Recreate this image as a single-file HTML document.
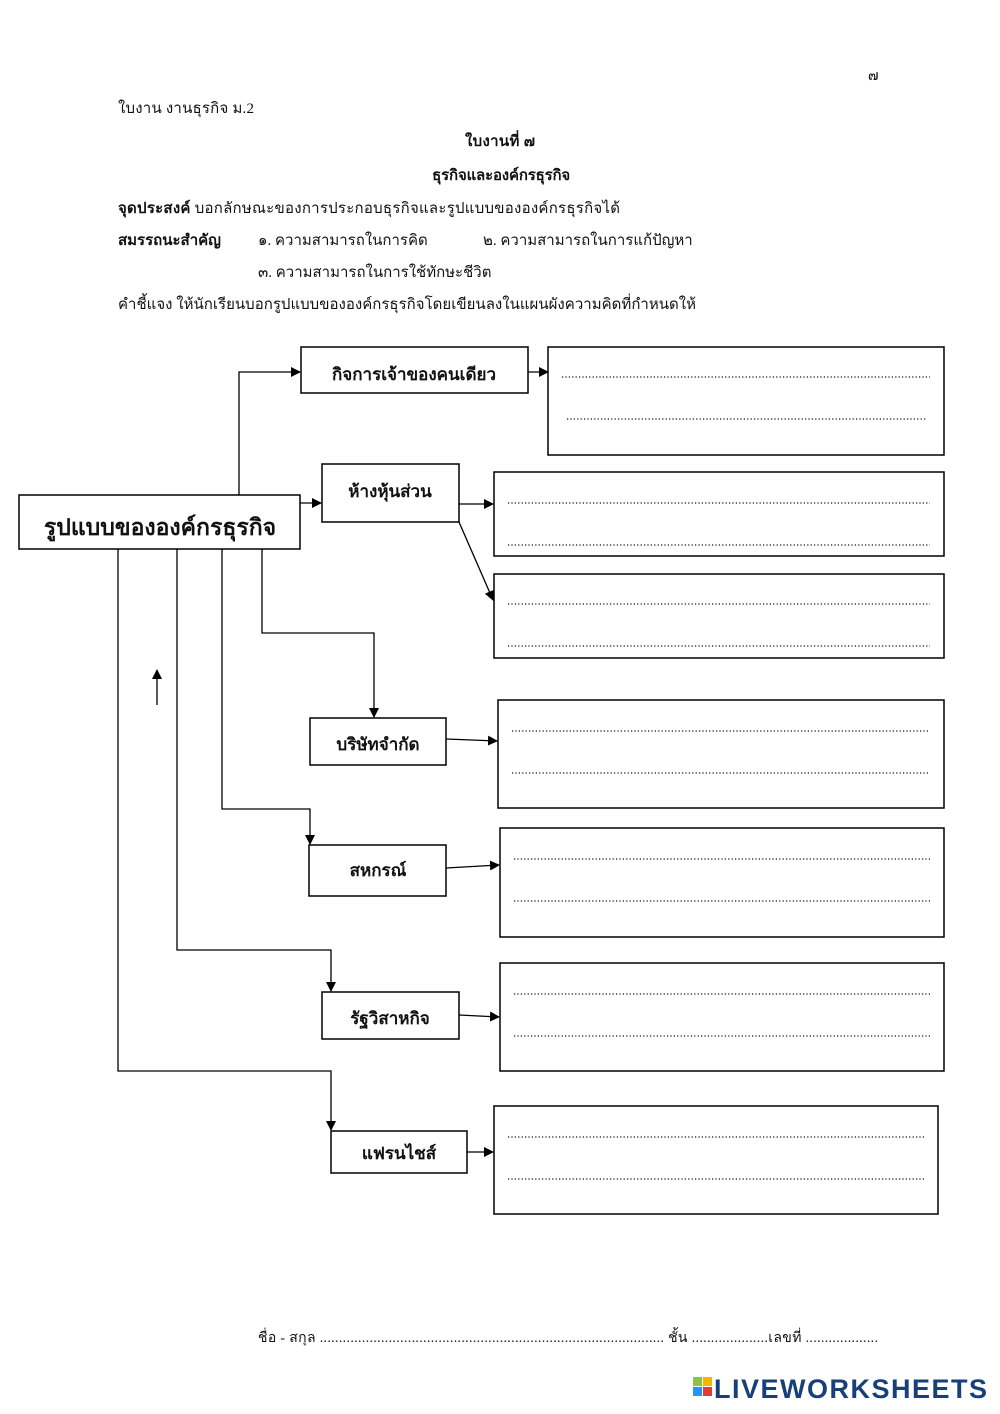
<!DOCTYPE html>
<html><head><meta charset="utf-8"><style>
html,body{margin:0;padding:0;background:#fff;}
svg{display:block;}
text{font-family:"Liberation Serif","DejaVu Serif","Noto Sans CJK SC",serif;fill:#111;}
.b{font-weight:bold;}
.box{fill:#fff;stroke:#000;stroke-width:1.5;}
.ln{fill:none;stroke:#000;stroke-width:1.3;}
.dot{stroke:#111;stroke-width:1.3;stroke-dasharray:1.2 2.2;}
</style></head><body>
<svg width="1000" height="1414" viewBox="0 0 1000 1414" xmlns="http://www.w3.org/2000/svg">
<defs><marker id="a" markerWidth="10" markerHeight="10" refX="9" refY="5" orient="auto" markerUnits="userSpaceOnUse"><path d="M0,0 L10,5 L0,10 z" fill="#000"/></marker></defs>

<text x="868" y="80" font-size="14">๗</text>
<text x="118" y="113" font-size="15" textLength="136">ใบงาน งานธุรกิจ ม.2</text>
<text x="465" y="146" font-size="15" class="b" textLength="70">ใบงานที่ ๗</text>
<text x="432" y="180" font-size="15" class="b" textLength="138">ธุรกิจและองค์กรธุรกิจ</text>
<text x="118" y="213" font-size="15" textLength="502"><tspan class="b">จุดประสงค์</tspan> บอกลักษณะของการประกอบธุรกิจและรูปแบบขององค์กรธุรกิจได้</text>
<text x="118" y="245" font-size="15" class="b">สมรรถนะสำคัญ</text>
<text x="258" y="245" font-size="15">๑. ความสามารถในการคิด</text>
<text x="483" y="245" font-size="15">๒. ความสามารถในการแก้ปัญหา</text>
<text x="258" y="277" font-size="15">๓. ความสามารถในการใช้ทักษะชีวิต</text>
<text x="118" y="309" font-size="15" textLength="578">คำชี้แจง  ให้นักเรียนบอกรูปแบบขององค์กรธุรกิจโดยเขียนลงในแผนผังความคิดที่กำหนดให้</text>

<rect class="box" x="19" y="495" width="281" height="54"/>
<text x="160" y="535" font-size="23" class="b" text-anchor="middle">รูปแบบขององค์กรธุรกิจ</text>

<rect class="box" x="301" y="347" width="227" height="46"/>
<text x="414" y="380" font-size="17" class="b" text-anchor="middle">กิจการเจ้าของคนเดียว</text>
<polyline class="ln" points="239,495 239,372 300,372" marker-end="url(#a)"/>
<line class="ln" x1="528" y1="372" x2="548" y2="372" marker-end="url(#a)"/>
<rect class="box" x="548" y="347" width="396" height="108"/>
<line class="dot" x1="562" y1="377" x2="930" y2="377"/>
<line class="dot" x1="567" y1="419" x2="926" y2="419"/>

<rect class="box" x="322" y="464" width="137" height="58"/>
<text x="390" y="497" font-size="17" class="b" text-anchor="middle">ห้างหุ้นส่วน</text>
<line class="ln" x1="300" y1="503" x2="321" y2="503" marker-end="url(#a)"/>
<line class="ln" x1="459" y1="504" x2="493" y2="504" marker-end="url(#a)"/>
<line class="ln" x1="459" y1="522" x2="493" y2="600" marker-end="url(#a)"/>
<rect class="box" x="494" y="472" width="450" height="84"/>
<line class="dot" x1="508" y1="503" x2="930" y2="503"/>
<line class="dot" x1="508" y1="545" x2="930" y2="545"/>
<rect class="box" x="494" y="574" width="450" height="84"/>
<line class="dot" x1="508" y1="604" x2="930" y2="604"/>
<line class="dot" x1="508" y1="646" x2="930" y2="646"/>

<polyline class="ln" points="262,549 262,633 374,633 374,717" marker-end="url(#a)"/>
<rect class="box" x="310" y="718" width="136" height="47"/>
<text x="378" y="750" font-size="17" class="b" text-anchor="middle">บริษัทจำกัด</text>
<line class="ln" x1="446" y1="739" x2="497" y2="741" marker-end="url(#a)"/>
<rect class="box" x="498" y="700" width="446" height="108"/>
<line class="dot" x1="512" y1="731" x2="930" y2="731"/>
<line class="dot" x1="512" y1="773" x2="930" y2="773"/>

<polyline class="ln" points="222,549 222,809 310,809 310,844" marker-end="url(#a)"/>
<rect class="box" x="309" y="845" width="137" height="51"/>
<text x="378" y="876" font-size="17" class="b" text-anchor="middle">สหกรณ์</text>
<line class="ln" x1="446" y1="868" x2="499" y2="865" marker-end="url(#a)"/>
<rect class="box" x="500" y="828" width="444" height="109"/>
<line class="dot" x1="514" y1="859" x2="930" y2="859"/>
<line class="dot" x1="514" y1="901" x2="930" y2="901"/>

<polyline class="ln" points="177,549 177,950 331,950 331,991" marker-end="url(#a)"/>
<rect class="box" x="322" y="992" width="137" height="47"/>
<text x="390" y="1024" font-size="17" class="b" text-anchor="middle">รัฐวิสาหกิจ</text>
<line class="ln" x1="459" y1="1015" x2="499" y2="1017" marker-end="url(#a)"/>
<rect class="box" x="500" y="963" width="444" height="108"/>
<line class="dot" x1="514" y1="994" x2="930" y2="994"/>
<line class="dot" x1="514" y1="1036" x2="930" y2="1036"/>

<polyline class="ln" points="118,549 118,1071 331,1071 331,1130" marker-end="url(#a)"/>
<rect class="box" x="331" y="1131" width="136" height="42"/>
<text x="399" y="1159" font-size="17" class="b" text-anchor="middle">แฟรนไชส์</text>
<line class="ln" x1="467" y1="1152" x2="493" y2="1152" marker-end="url(#a)"/>
<rect class="box" x="494" y="1106" width="444" height="108"/>
<line class="dot" x1="508" y1="1137" x2="924" y2="1137"/>
<line class="dot" x1="508" y1="1179" x2="924" y2="1179"/>

<line class="ln" x1="157" y1="705" x2="157" y2="670" marker-end="url(#a)"/>

<text x="258" y="1342" font-size="14" textLength="620">ชื่อ - สกุล ..........................................................................................  ชั้น ....................เลขที่ ...................</text>

<rect x="693" y="1377" width="9" height="9" fill="#8bc34a"/>
<rect x="703" y="1377" width="9" height="9" fill="#f5b400"/>
<rect x="693" y="1387" width="9" height="9" fill="#2196f3"/>
<rect x="703" y="1387" width="9" height="9" fill="#e53935"/>
<text x="714" y="1398" font-size="27" font-weight="bold" style="font-family:'Liberation Sans',sans-serif;fill:#17407a" textLength="273">LIVEWORKSHEETS</text>
</svg>
</body></html>
